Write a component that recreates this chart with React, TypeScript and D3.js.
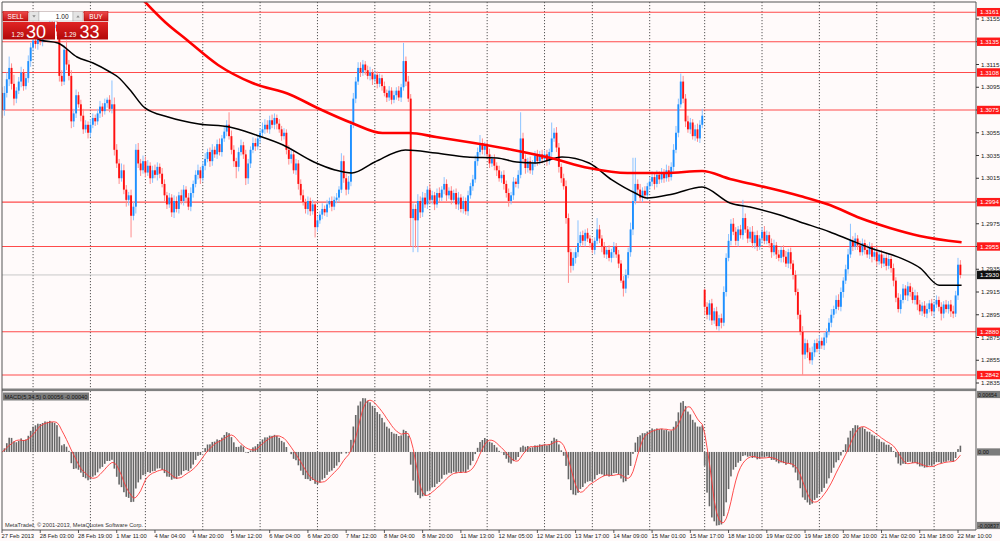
import { useMemo } from 'react';
import * as d3 from 'd3';

// EURUSD H1, 27 Feb - 22 Mar 2013. Prices kept in points above BASE.
const BASE = 1.28;

const closes = [
  275, 290, 302, 312, 298, 285, 292, 300, 308, 296, 303, 318, 330, 336, 333, 338, 335, 342, 348, 345,
  352, 347, 350, 344, 305, 300, 328, 315, 305, 265, 272, 288, 280, 270, 258, 262, 255, 262, 268, 265,
  272, 278, 274, 281, 284, 276, 280, 240, 228, 215, 222, 205, 196, 200, 182, 190, 240, 228, 222, 230,
  220, 226, 215, 222, 218, 225, 219, 210, 200, 192, 198, 185, 195, 188, 200, 195, 205, 198, 190, 202,
  210, 218, 222, 215, 226, 232, 238, 230, 240, 236, 245, 238, 250, 256, 262, 252, 240, 230, 225, 238,
  244, 236, 215, 228, 240, 246, 243, 250, 255, 258, 262, 258, 266, 262, 268, 263, 258, 252, 255, 240,
  232, 236, 222, 228, 210, 200, 194, 188, 195, 186, 192, 172, 178, 183, 188, 185, 192, 195, 190, 196,
  198, 205, 230, 215, 205, 212, 262, 285, 300, 312, 308, 315, 310, 305, 308, 302, 306, 298, 303, 296,
  290, 286, 292, 284, 288, 292, 286, 295, 318, 300, 285, 180, 188, 178, 195, 185, 198, 192, 205, 196,
  200, 192, 202, 198, 205, 210, 200, 204, 196, 202, 192, 198, 188, 195, 186, 200, 208, 214, 230, 238,
  246, 240, 244, 236, 228, 232, 226, 222, 215, 218, 210, 202, 195, 200, 212, 210, 218, 250, 232, 224,
  230, 222, 228, 235, 230, 236, 232, 236, 230, 238, 250, 255, 242, 225, 215, 208, 180, 150, 138, 145,
  150, 158, 165, 160, 167, 162, 158, 152, 160, 170, 162, 155, 148, 152, 145, 150, 155, 148, 140, 125,
  118, 130, 150, 170, 195, 210, 205, 198, 204, 200, 208, 212, 216, 210, 218, 214, 220, 215, 222, 216,
  225, 240, 255, 280, 300, 285, 265, 258, 264, 252, 258, 250, 262, 270, 102, 95, 105, 90, 98, 85,
  92, 88, 115, 145, 160, 175, 168, 160, 170, 165, 180, 170, 162, 168, 158, 165, 155, 162, 168, 160,
  165, 158, 150, 156, 148, 145, 152, 146, 140, 150, 140, 130, 115, 95, 80, 60, 70, 62, 55, 62,
  70, 65, 72, 68, 75, 80, 88, 95, 100, 108, 102, 115, 125, 135, 148, 160, 155, 162, 156, 150,
  158, 152, 148, 155, 146, 150, 142, 148, 140, 145, 138, 144, 136, 125, 110, 100, 108, 118, 112, 120,
  115, 108, 112, 104, 98, 103, 96, 100, 105, 98, 104, 108, 102, 96, 104, 100, 104, 98, 96, 112,
  139, 130,
];

const upWick = [
  5, 6, 6, 10, 4, 8, 3, 4, 5, 3, 4, 5, 4, 6, 5, 4, 6, 5, 4, 3,
  4, 5, 3, 4, 6, 5, 4, 8, 4, 5, 4, 5, 3, 4, 6, 4, 3, 5, 4, 3,
  4, 5, 3, 4, 2, 4, 21, 6, 5, 4, 6, 5, 4, 3, 5, 4, 5, 6, 4, 5,
  4, 5, 3, 4, 5, 4, 3, 5, 4, 3, 4, 3, 5, 4, 3, 5, 4, 3, 4, 5,
  3, 4, 5, 3, 4, 5, 3, 4, 5, 3, 4, 5, 3, 5, 4, 11, 5, 4, 3, 4,
  5, 3, 4, 4, 3, 5, 4, 3, 4, 6, 5, 4, 4, 5, 4, 3, 4, 3, 4, 3,
  4, 5, 3, 4, 3, 4, 5, 3, 4, 3, 4, 3, 4, 3, 5, 3, 4, 3, 4, 3,
  4, 3, 7, 5, 4, 5, 4, 5, 4, 5, 5, 4, 3, 4, 5, 3, 4, 3, 4, 3,
  4, 3, 4, 3, 4, 3, 4, 3, 16, 4, 5, 4, 5, 4, 6, 4, 5, 4, 3, 5,
  4, 3, 4, 5, 3, 6, 4, 3, 4, 3, 4, 5, 3, 4, 3, 4, 3, 4, 5, 4,
  7, 4, 3, 4, 5, 3, 4, 3, 4, 3, 4, 3, 4, 3, 4, 3, 4, 23, 5, 4,
  3, 4, 3, 4, 5, 3, 4, 3, 4, 3, 14, 4, 5, 4, 3, 4, 5, 4, 3, 5,
  4, 20, 3, 4, 3, 4, 3, 4, 3, 10, 4, 3, 4, 3, 4, 3, 4, 3, 4, 3,
  4, 5, 4, 6, 38, 23, 4, 5, 3, 4, 3, 4, 5, 3, 4, 3, 4, 3, 5, 4,
  4, 5, 6, 5, 7, 5, 4, 5, 4, 3, 4, 5, 4, 6, 1, 4, 3, 4, 3, 4,
  3, 4, 5, 4, 6, 4, 5, 4, 3, 4, 16, 4, 3, 4, 5, 3, 4, 3, 4, 5,
  4, 3, 4, 5, 3, 4, 3, 4, 5, 3, 4, 3, 4, 3, 4, 5, 4, 3, 4, 5,
  3, 4, 5, 3, 4, 3, 4, 5, 3, 4, 5, 4, 3, 4, 5, 15, 4, 5, 3, 4,
  4, 3, 5, 4, 3, 4, 5, 3, 4, 3, 4, 5, 3, 4, 3, 4, 5, 4, 3, 4,
  3, 4, 5, 3, 4, 3, 4, 5, 3, 4, 3, 4, 3, 4, 3, 4, 3, 4, 5, 4,
  6, 4,
];

const downWick = [
  7, 5, 4, 6, 5, 6, 4, 3, 5, 4, 3, 4, 5, 3, 4, 5, 3, 4, 5, 4,
  3, 4, 5, 4, 5, 4, 3, 5, 4, 6, 5, 4, 3, 5, 4, 3, 5, 4, 3, 4,
  3, 4, 5, 3, 4, 3, 4, 5, 4, 5, 3, 4, 6, 5, 19, 4, 6, 4, 5, 3,
  4, 3, 5, 4, 3, 5, 4, 3, 5, 4, 3, 4, 5, 3, 4, 3, 4, 5, 3, 4,
  4, 3, 4, 5, 3, 4, 3, 5, 4, 3, 4, 3, 4, 3, 4, 3, 4, 5, 10, 4,
  3, 4, 6, 5, 4, 3, 4, 3, 4, 3, 4, 3, 4, 3, 4, 5, 3, 4, 3, 4,
  5, 4, 3, 4, 5, 4, 3, 4, 5, 4, 3, 9, 4, 3, 4, 3, 4, 3, 4, 3,
  3, 4, 3, 4, 5, 4, 4, 3, 4, 3, 4, 3, 4, 3, 4, 5, 3, 4, 3, 4,
  3, 4, 3, 4, 3, 4, 3, 4, 3, 4, 3, 25, 30, 24, 28, 5, 4, 3, 4, 3,
  4, 5, 3, 4, 3, 4, 5, 3, 4, 3, 4, 5, 3, 4, 3, 4, 3, 4, 3, 4,
  3, 4, 5, 3, 4, 3, 4, 5, 3, 4, 5, 4, 5, 3, 4, 3, 4, 3, 4, 5,
  4, 3, 4, 3, 4, 3, 4, 3, 4, 3, 4, 3, 4, 5, 4, 3, 5, 27, 6, 4,
  5, 4, 3, 4, 5, 3, 4, 3, 4, 3, 4, 5, 3, 4, 3, 4, 5, 3, 4, 2,
  7, 4, 3, 4, 5, 3, 4, 3, 4, 3, 4, 3, 4, 5, 3, 4, 3, 4, 3, 4,
  3, 4, 3, 4, 3, 4, 5, 3, 4, 3, 4, 3, 4, 3, 7, 4, 5, 4, 3, 3,
  4, 5, 3, 4, 3, 4, 3, 4, 5, 3, 4, 3, 4, 3, 4, 5, 4, 3, 4, 3,
  3, 4, 5, 3, 4, 3, 4, 5, 3, 4, 5, 4, 3, 4, 3, 18, 4, 5, 3, 4,
  4, 3, 4, 3, 4, 5, 3, 4, 3, 4, 3, 4, 5, 3, 4, 3, 4, 3, 4, 3,
  3, 4, 3, 4, 5, 3, 4, 3, 4, 3, 4, 3, 4, 5, 4, 3, 4, 3, 4, 5,
  4, 3, 4, 5, 3, 4, 3, 4, 3, 4, 5, 3, 4, 6, 4, 3, 4, 5, 4, 3,
  4, 3,
];

// bars whose open is not the previous close (first bar, Monday 18 Mar gap)
const openOverrides: [number, number][] = [[0, 290], [294, 117]];

const timeLabels = [
  '27 Feb 2013', '28 Feb 03:00', '28 Feb 19:00', '1 Mar 11:00', '4 Mar 04:00', '4 Mar 20:00',
  '5 Mar 12:00', '6 Mar 04:00', '6 Mar 20:00', '7 Mar 12:00', '8 Mar 04:00', '8 Mar 20:00',
  '11 Mar 13:00', '12 Mar 05:00', '12 Mar 21:00', '13 Mar 17:00', '14 Mar 09:00', '15 Mar 01:00',
  '15 Mar 17:00', '18 Mar 10:00', '19 Mar 02:00', '19 Mar 18:00', '20 Mar 10:00', '21 Mar 02:00',
  '21 Mar 18:00', '22 Mar 10:00',
];
const labelStep = 16;

// bar index of each day's first bar (dotted separators)
const dayStarts = [13, 37, 60, 84, 108, 132, 156, 179, 203, 227, 247, 271, 294, 318, 342, 366, 390];

const priceTicks = [
  1.2835, 1.2855, 1.2875, 1.2895, 1.2915, 1.2935, 1.2955, 1.2975, 1.2995,
  1.3015, 1.3035, 1.3055, 1.3075, 1.3095, 1.3115, 1.3135, 1.3155,
];
const levels = [1.3161, 1.3135, 1.3108, 1.3075, 1.2994, 1.2955, 1.288, 1.2842];
const lastPrice = 1.293;

// moving averages: [bar, points]
const maBlack: [number, number][] = [
  [5, 352], [11, 344], [15.9, 336.5], [23.4, 333.9], [31.4, 321.6], [38.1, 316.3], [45.2, 308.4],
  [48.5, 304], [53.6, 292.6], [59.8, 276.8], [69.5, 268.9], [82.4, 262.7], [95.2, 260.1],
  [106.3, 253], [117.6, 244.2], [130.5, 229.3], [139.3, 222.3], [146.4, 219.6], [156, 229.3],
  [168.8, 239.9], [181.6, 237.2], [194.6, 233.7], [207.1, 232.8], [215.3, 229.3], [223.4, 228.4],
  [234.3, 233.7], [245.6, 228.4], [255.2, 213.5], [264.9, 202], [269.9, 197.7], [280.8, 201.2],
  [292.9, 207.3], [304.6, 193.3], [313, 189.7], [325.5, 182.7], [333.9, 176.6], [346.4, 167.8],
  [354.8, 160.7], [363.2, 153.7], [375.8, 145], [384.2, 136], [392.1, 121], [401.5, 121],
];
const maRed: [number, number][] = [
  [55, 381], [68.2, 352.4], [77.4, 336.5], [90.4, 314.6], [104.8, 298.7], [120.9, 288.2],
  [132, 276.8], [146.4, 263.6], [159.2, 254.8], [170.3, 254.8], [181.6, 251.3], [197.5, 246],
  [213.8, 239.9], [229.7, 232.8], [245.6, 224], [261.7, 219.6], [277.8, 219.6], [292.9, 221.4],
  [304.6, 214.4], [317.2, 208.2], [333.9, 199.4], [346.4, 191.5], [359, 180], [371.5, 171.3],
  [384, 164.3], [401.5, 158.7],
];

const macdTicks = [
  { v: 0.00654, label: '0.00654' },
  { v: 0, label: '0.00' },
  { v: -0.00837, label: '-0.00837' },
];

const W = 1000;
const H = 541;
const left = 2;
const right = 976;
const mainTop = 2;
const mainBottom = 389;
const macdTop = 391;
const macdBottom = 530;
const font = "'Liberation Sans', Arial, sans-serif";

function ema(values: number[], n: number) {
  const k = 2 / (n + 1);
  const out: number[] = [];
  values.forEach((v, i) => out.push(i === 0 ? v : v * k + out[i - 1] * (1 - k)));
  return out;
}

export default function App() {
  const x = d3.scaleLinear().domain([0, 400]).range([2, 958]);
  const y = d3.scaleLinear().domain([1.2835, 1.3155]).range([383, 19]);
  const ym = d3.scaleLinear().domain([-0.00837, 0.00654]).range([525.5, 394.5]);
  const py = (p: number) => y(BASE + p / 10000);

  const bars = useMemo(() => {
    const ov = new Map(openOverrides);
    return closes.map((c, i) => {
      const o = ov.has(i) ? (ov.get(i) as number) : closes[i - 1];
      const hi = Math.max(o, c) + upWick[i];
      const lo = Math.min(o, c) - downWick[i];
      return { i, o, c, hi, lo, up: c >= o };
    });
  }, []);

  const macd = useMemo(() => {
    const f = ema(closes, 5);
    const s = ema(closes, 34);
    const m = f.map((v, i) => (v - s[i]) / 10000);
    const sig = m.map((_, i) => d3.mean(m.slice(Math.max(0, i - 4), i + 1)) as number);
    return { m, sig };
  }, []);

  const maLine = d3
    .line<[number, number]>()
    .x((d) => x(d[0]))
    .y((d) => py(d[1]))
    .curve(d3.curveMonotoneX);

  const sigLine = d3
    .line<number>()
    .x((_, i) => x(i))
    .y((d) => ym(d));

  const bw = 1.9;

  return (
    <svg
      width={W}
      height={H}
      style={{ position: 'absolute', left: 0, top: 0, fontFamily: font }}
    >
      <defs>
        <clipPath id="mainClip">
          <rect x={left} y={mainTop} width={right - left} height={mainBottom - mainTop} />
        </clipPath>
        <clipPath id="macdClip">
          <rect x={left} y={macdTop} width={right - left} height={macdBottom - macdTop} />
        </clipPath>
        <linearGradient id="bigRed" x1="0" y1="0" x2="0" y2="1">
          <stop offset="0" stopColor="#e02424" />
          <stop offset="1" stopColor="#b30808" />
        </linearGradient>
        <linearGradient id="btnRed" x1="0" y1="0" x2="0" y2="1">
          <stop offset="0" stopColor="#ee4a4a" />
          <stop offset="1" stopColor="#c41212" />
        </linearGradient>
      </defs>

      <rect x={0} y={0} width={W} height={H} fill="#fffafa" />

      {/* day separators */}
      {dayStarts.map((d) => (
        <g key={d}>
          <line x1={x(d)} x2={x(d)} y1={mainTop} y2={mainBottom} stroke="#444" strokeWidth={0.9} strokeDasharray="1.2,1.8" />
          <line x1={x(d)} x2={x(d)} y1={macdTop} y2={macdBottom} stroke="#444" strokeWidth={0.9} strokeDasharray="1.2,1.8" />
        </g>
      ))}

      <g clipPath="url(#mainClip)">
        {levels.map((l) => (
          <line key={l} x1={left} x2={right} y1={y(l)} y2={y(l)} stroke="#ff4a4a" strokeWidth={1.1} />
        ))}
        <line x1={left} x2={right} y1={y(lastPrice)} y2={y(lastPrice)} stroke="#c8c8c8" strokeWidth={1} />

        {bars.map((b) => (
          <line
            key={'w' + b.i}
            x1={x(b.i)}
            x2={x(b.i)}
            y1={py(b.hi)}
            y2={py(b.lo)}
            stroke={b.up ? '#8cc3ff' : '#ff8c8c'}
            strokeWidth={1}
          />
        ))}
        {bars.map((b) => {
          const top = py(Math.max(b.o, b.c));
          const h = Math.max(1, py(Math.min(b.o, b.c)) - top);
          return (
            <rect
              key={'b' + b.i}
              x={x(b.i) - bw / 2}
              y={top}
              width={bw}
              height={h}
              fill={b.up ? '#1e90ff' : '#ff1010'}
            />
          );
        })}

        <path d={maLine(maBlack) ?? ''} fill="none" stroke="#000" strokeWidth={1.5} />
        <path d={maLine(maRed) ?? ''} fill="none" stroke="#ff0000" strokeWidth={2.6} />
      </g>

      {/* MACD panel */}
      <g clipPath="url(#macdClip)">
        {macd.m.map((v, i) => (
          <rect
            key={'h' + i}
            x={x(i) - 0.8}
            y={Math.min(ym(v), ym(0))}
            width={1.6}
            height={Math.abs(ym(v) - ym(0))}
            fill="#666"
          />
        ))}
        <path d={sigLine(macd.sig) ?? ''} fill="none" stroke="#ff3a3a" strokeWidth={0.9} />
      </g>
      <rect x={3} y={392.5} width={86} height={8} fill="#7c7c7c" />
      <text x={4.5} y={398.9} fontSize={5.6} fill="#111" textLength={83} lengthAdjust="spacingAndGlyphs">
        MACD(5,34,5) 0.00056 -0.00040
      </text>
      <text x={5} y={527} fontSize={5.8} fill="#333" textLength={138} lengthAdjust="spacingAndGlyphs">
        MetaTrader, © 2001-2013, MetaQuotes Software Corp.
      </text>

      {/* frame */}
      <rect x={left} y={mainBottom - 0.5} width={right - left} height={2.6} fill="#808080" />
      <line x1={left} x2={left} y1={mainTop} y2={macdBottom} stroke="#555" strokeWidth={1} />
      <line x1={left} x2={right} y1={mainTop} y2={mainTop} stroke="#555" strokeWidth={1} />
      <line x1={right} x2={right} y1={mainTop} y2={macdBottom} stroke="#555" strokeWidth={1} />
      <line x1={left} x2={right} y1={macdBottom} y2={macdBottom} stroke="#555" strokeWidth={1} />

      {/* price axis */}
      {priceTicks.map((t) => (
        <g key={t}>
          <line x1={right} x2={right + 3} y1={y(t)} y2={y(t)} stroke="#333" strokeWidth={1} />
          <text x={981} y={y(t) + 2.2} fontSize={6.2} fill="#222">{t.toFixed(4)}</text>
        </g>
      ))}
      {levels.map((l) => (
        <g key={'lb' + l}>
          <rect x={977} y={y(l) - 4.2} width={23} height={8.4} fill="#ff1a1a" />
          <text x={980} y={y(l) + 2.2} fontSize={6.2} fill="#fff">{l.toFixed(4)}</text>
        </g>
      ))}
      <rect x={977} y={y(lastPrice) - 4.2} width={23} height={8.4} fill="#111" />
      <text x={980} y={y(lastPrice) + 2.2} fontSize={6.2} fill="#fff">{lastPrice.toFixed(4)}</text>

      {/* MACD axis */}
      {macdTicks.map((t) => (
        <g key={t.label}>
          <rect x={977} y={ym(t.v) - 3.6} width={23} height={7.2} fill="#7c7c7c" />
          <text
            x={978}
            y={ym(t.v) + 2}
            fontSize={5.6}
            fill="#111"
            textLength={t.label.length > 6 ? Math.min(21, t.label.length * 2.7) : undefined}
            lengthAdjust="spacingAndGlyphs"
          >
            {t.label}
          </text>
        </g>
      ))}

      {/* time axis */}
      {timeLabels.map((t, k) => {
        const xi = x(k * labelStep);
        return (
          <g key={t}>
            <line x1={xi} x2={xi} y1={macdBottom} y2={macdBottom + 3} stroke="#333" strokeWidth={0.8} />
            <text x={xi - 0.5} y={538} fontSize={5.8} fill="#222">{t}</text>
          </g>
        );
      })}

      {/* one-click trading panel */}
      <g>
        <rect x={3} y={11.5} width={25} height={9.5} fill="url(#btnRed)" stroke="#a00" strokeWidth={0.5} />
        <text x={15.5} y={18.6} fontSize={6.5} fill="#fff" textAnchor="middle">SELL</text>
        <rect x={29} y={11.5} width={10} height={9.5} fill="#e4e4e4" stroke="#aaa" strokeWidth={0.5} />
        <path d="M32.3,15.2 L35.7,15.2 L34,17.4 Z" fill="#888" />
        <rect x={39} y={11.5} width={34} height={9.5} fill="#fff" stroke="#aaa" strokeWidth={0.5} />
        <text x={68.5} y={18.6} fontSize={6.5} fill="#111" textAnchor="end">1.00</text>
        <rect x={73} y={11.5} width={10} height={9.5} fill="#e4e4e4" stroke="#aaa" strokeWidth={0.5} />
        <path d="M76.3,17.4 L79.7,17.4 L78,15.2 Z" fill="#888" />
        <rect x={84} y={11.5} width={24} height={9.5} fill="url(#btnRed)" stroke="#a00" strokeWidth={0.5} />
        <text x={96} y={18.6} fontSize={6.5} fill="#fff" textAnchor="middle">BUY</text>

        <rect x={3} y={22} width={52} height={17.5} fill="url(#bigRed)" />
        <text x={11.5} y={36.8} fontSize={6.3} fill="#fff">1.29</text>
        <text x={26} y={38} fontSize={18} fill="#fff">30</text>
        <rect x={57} y={22} width={51} height={17.5} fill="url(#bigRed)" />
        <text x={64} y={36.8} fontSize={6.3} fill="#fff">1.29</text>
        <text x={79.5} y={38} fontSize={18} fill="#fff">33</text>
      </g>
    </svg>
  );
}
